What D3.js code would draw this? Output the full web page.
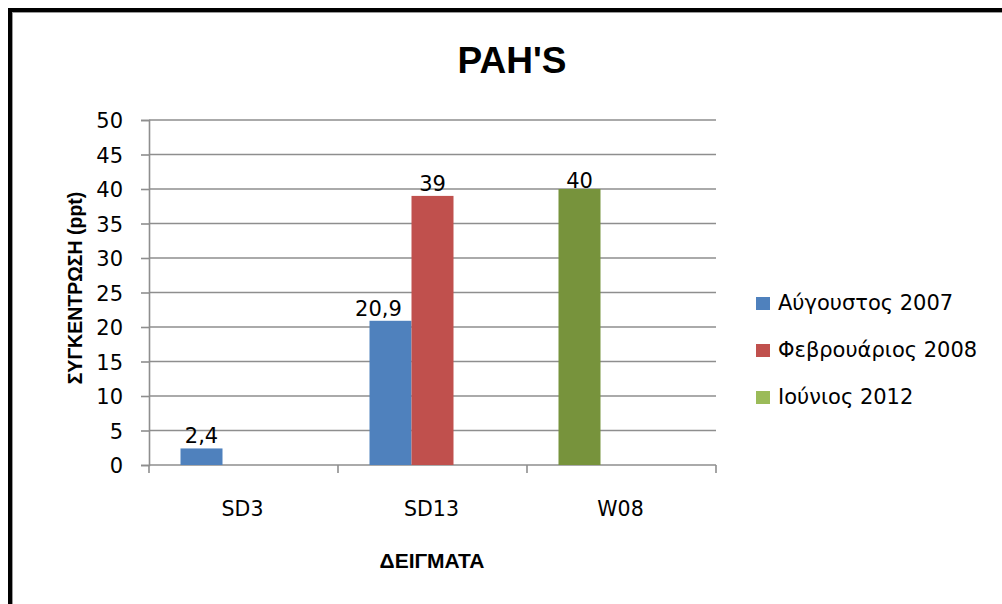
<!DOCTYPE html>
<html>
<head>
<meta charset="utf-8">
<script src="https://cdn.jsdelivr.net/npm/d3@7"></script>
<style>
  html, body { margin: 0; padding: 0; background: #fff; }
  svg { display: block; }
</style>
</head>
<body>
<svg id="chart" width="1002" height="604"></svg>
<script>
// Sampling stations and PAH concentrations (ppt) per campaign
const categories = ["SD3", "SD13", "W08"];
const seriesNames = ["Αύγουστος 2007", "Φεβρουάριος 2008", "Ιούνιος 2012"];
const aug2007 = [2.4, 20.9, null];
const feb2008 = [null, 39, null];
const jun2012 = [null, null, 40];
const seriesValues = [aug2007, feb2008, jun2012];
const yTicks = [0, 5, 10, 15, 20, 25, 30, 35, 40, 45, 50];

// Styling
const legendColors = ["#4F81BD", "#C0504D", "#9BBB59"];
const barColors = ["#4F81BD", "#C0504D", "#77933C"];
const gridColor = "#8e8e8e";
const regFont = "'DejaVu Sans', sans-serif";
const boldFont = "'Liberation Sans', Arial, sans-serif";
// label nudges (dx, dy) keyed by category|series
const labelNudge = { "SD13|0": [-12, 0], "W08|2": [0, 4] };

const svg = d3.select("#chart");

// Outer frame (continues past the right and bottom edges)
svg.append("rect")
  .attr("x", 10).attr("y", 10).attr("width", 1040).attr("height", 640)
  .attr("fill", "none").attr("stroke", "#000").attr("stroke-width", 4);
svg.append("rect")
  .attr("x", 12.5).attr("y", 12.5).attr("width", 1040).attr("height", 640)
  .attr("fill", "none").attr("stroke", "#9a9a9a").attr("stroke-width", 1);

// Title
svg.append("text")
  .attr("x", 512).attr("y", 73)
  .attr("text-anchor", "middle")
  .style("font-family", boldFont).style("font-weight", "bold").style("font-size", "37px")
  .text("PAH'S");

const plot = { left: 149, right: 716, top: 120, bottom: 465 };

const x = d3.scaleBand().domain(categories).range([plot.left, plot.right]).padding(0);
const y = d3.scaleLinear().domain([0, 50]).range([plot.bottom, plot.top]);

// Gridlines
svg.append("g").selectAll("line").data(yTicks.filter(t => t > 0)).join("line")
  .attr("x1", plot.left).attr("x2", plot.right)
  .attr("y1", d => y(d)).attr("y2", d => y(d))
  .attr("stroke", gridColor).attr("stroke-width", 1.6);

// Y axis
const yAxis = svg.append("g")
  .attr("transform", `translate(${plot.left},0)`)
  .call(d3.axisLeft(y).tickValues(yTicks).tickSize(8).tickPadding(18).tickFormat(d3.format("d")));
yAxis.select(".domain").attr("stroke", gridColor).attr("stroke-width", 1.6);
yAxis.selectAll(".tick line").attr("stroke", gridColor).attr("stroke-width", 1.6);
yAxis.selectAll(".tick text")
  .style("font-family", regFont).style("font-size", "21px").attr("fill", "#000")
  .attr("dy", "0.36em");

// X axis baseline and category-boundary ticks
svg.append("line")
  .attr("x1", plot.left).attr("x2", plot.right)
  .attr("y1", y(0)).attr("y2", y(0))
  .attr("stroke", gridColor).attr("stroke-width", 1.6);
const bounds = categories.map(c => x(c)).concat([x(categories[categories.length - 1]) + x.bandwidth()]);
svg.append("g").selectAll("line").data(bounds).join("line")
  .attr("x1", d => d).attr("x2", d => d)
  .attr("y1", y(0)).attr("y2", y(0) + 8)
  .attr("stroke", gridColor).attr("stroke-width", 1.6);

// Category labels
svg.append("g").selectAll("text").data(categories).join("text")
  .attr("x", d => x(d) + x.bandwidth() / 2 - 1)
  .attr("y", 516)
  .attr("text-anchor", "middle")
  .style("font-family", regFont).style("font-size", "20.5px")
  .text(d => d);

// Bars: present values are packed from the left slot of each category group
const slotW = x.bandwidth() / (seriesNames.length + 1.5);
const bars = [];
categories.forEach((cat, ci) => {
  let slot = 0;
  seriesValues.forEach((vals, si) => {
    const v = vals[ci];
    if (v == null) return;
    const groupStart = x(cat) + x.bandwidth() / 2 - slotW * seriesNames.length / 2;
    bars.push({ cat, si, v, x0: groupStart + slot * slotW });
    slot++;
  });
});

svg.append("g").selectAll("rect").data(bars).join("rect")
  .attr("x", d => d.x0).attr("width", slotW)
  .attr("y", d => y(d.v)).attr("height", d => y(0) - y(d.v))
  .attr("fill", d => barColors[d.si]);

// Value labels
const fmt = v => String(v).replace(".", ",");
svg.append("g").selectAll("text").data(bars).join("text")
  .attr("x", d => d.x0 + slotW / 2 + (labelNudge[d.cat + "|" + d.si] || [0, 0])[0])
  .attr("y", d => y(d.v) - 5 + (labelNudge[d.cat + "|" + d.si] || [0, 0])[1])
  .attr("text-anchor", "middle")
  .style("font-family", regFont).style("font-size", "21px")
  .text(d => fmt(d.v));

// Axis titles
svg.append("text")
  .attr("transform", "translate(82,288) rotate(-90)")
  .attr("text-anchor", "middle")
  .style("font-family", boldFont).style("font-weight", "bold").style("font-size", "19.5px")
  .text("ΣΥΓΚΕΝΤΡΩΣΗ (ppt)");
svg.append("text")
  .attr("x", 432).attr("y", 568)
  .attr("text-anchor", "middle")
  .style("font-family", boldFont).style("font-weight", "bold").style("font-size", "21px")
  .text("ΔΕΙΓΜΑΤΑ");

// Legend
const legend = svg.append("g").selectAll("g").data(seriesNames).join("g")
  .attr("transform", (d, i) => `translate(756,${297 + i * 47})`);
legend.append("rect").attr("width", 14).attr("height", 13)
  .attr("fill", (d, i) => legendColors[i]);
legend.append("text").attr("x", 22).attr("y", 13)
  .style("font-family", regFont).style("font-size", "21px")
  .text(d => d);
</script>
</body>
</html>
